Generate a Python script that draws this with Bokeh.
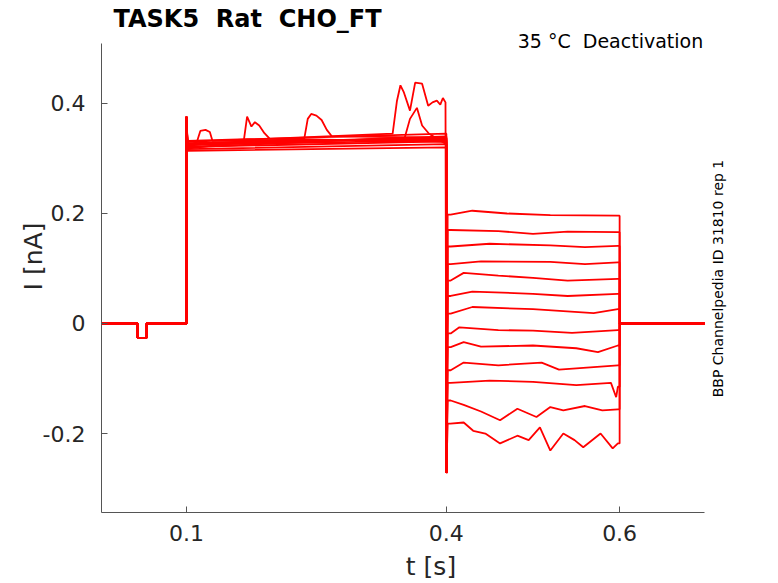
import math
from bokeh.plotting import figure
from bokeh.models import FixedTicker, Label, Range1d
from bokeh.embed import file_html
from bokeh.resources import INLINE

# ---------------- data ----------------
# protocol time points [s]
T_START = 0.002
T_DIP_ON = 0.0435
T_DIP_OFF = 0.054
T_STEP1 = 0.1
T_STEP2 = 0.4
T_STEP3 = 0.6
T_END = 0.698

DIP_LEVEL = -0.026        # small pre-pulse dip [nA]
ON_SPIKE = 0.376          # transient at the 0.1 s step [nA]
OFF_SPIKE = -0.272        # transient at the 0.4 s step [nA]

# 0.1-0.4 s plateau level at start and end of each sweep [nA]
HOLD_START = [0.322, 0.318, 0.326, 0.330, 0.320, 0.328, 0.314, 0.324, 0.332, 0.321, 0.327, 0.317, 0.325]
HOLD_END   = [0.334, 0.330, 0.338, 0.342, 0.326, 0.336, 0.320, 0.340, 0.345, 0.331, 0.337, 0.326, 0.333]

# local excursions during the 0.1-0.4 s plateau (t, I)
HOLD_BUMPS = {
    0: [(0.112, 0.330), (0.116, 0.350), (0.122, 0.352), (0.127, 0.348), (0.130, 0.332)],
    1: [(0.166, 0.330), (0.170, 0.376), (0.175, 0.358), (0.179, 0.366), (0.184, 0.360),
        (0.190, 0.346), (0.196, 0.336)],
    2: [(0.236, 0.336), (0.240, 0.372), (0.244, 0.381), (0.250, 0.378), (0.256, 0.370),
        (0.262, 0.352), (0.268, 0.340)],
    3: [(0.338, 0.345), (0.343, 0.405), (0.347, 0.433), (0.351, 0.420), (0.358, 0.387),
        (0.364, 0.438), (0.372, 0.436), (0.379, 0.396), (0.384, 0.402), (0.389, 0.405),
        (0.393, 0.398), (0.396, 0.410), (0.399, 0.402)],
    4: [(0.352, 0.338), (0.358, 0.372), (0.366, 0.392), (0.372, 0.360), (0.380, 0.345)],
}

# 0.4-0.6 s test-pulse traces of the 13 sweeps (t, I) [s, nA]
TEST_TRACES = [
    [(0.405, 0.198), (0.430, 0.205), (0.470, 0.200), (0.520, 0.197), (0.598, 0.196)],
    [(0.405, 0.170), (0.460, 0.168), (0.500, 0.163), (0.540, 0.167), (0.598, 0.166)],
    [(0.405, 0.140), (0.450, 0.145), (0.520, 0.142), (0.560, 0.139), (0.598, 0.141)],
    [(0.405, 0.108), (0.440, 0.113), (0.520, 0.112), (0.560, 0.108), (0.598, 0.111)],
    [(0.405, 0.078), (0.420, 0.092), (0.460, 0.087), (0.500, 0.083), (0.540, 0.078), (0.598, 0.081)],
    [(0.405, 0.050), (0.430, 0.058), (0.500, 0.054), (0.540, 0.050), (0.598, 0.054)],
    [(0.405, 0.018), (0.430, 0.030), (0.500, 0.026), (0.570, 0.019), (0.598, 0.026)],
    [(0.405, -0.018), (0.415, -0.007), (0.460, -0.012), (0.500, -0.013), (0.545, -0.017), (0.598, -0.012)],
    [(0.405, -0.043), (0.420, -0.034), (0.440, -0.042), (0.500, -0.040), (0.550, -0.045),
     (0.575, -0.052), (0.598, -0.040)],
    [(0.405, -0.085), (0.420, -0.071), (0.460, -0.076), (0.510, -0.071), (0.530, -0.084), (0.598, -0.076)],
    [(0.405, -0.108), (0.450, -0.104), (0.500, -0.106), (0.550, -0.112), (0.590, -0.108),
     (0.596, -0.134), (0.598, -0.115)],
    [(0.405, -0.140), (0.420, -0.148), (0.440, -0.160), (0.462, -0.176), (0.482, -0.155),
     (0.504, -0.170), (0.520, -0.152), (0.535, -0.158), (0.560, -0.150), (0.580, -0.158),
     (0.598, -0.156)],
    [(0.4046, -0.182), (0.420, -0.180), (0.431, -0.195), (0.445, -0.200), (0.462, -0.218),
     (0.482, -0.204), (0.495, -0.212), (0.508, -0.189), (0.520, -0.231), (0.535, -0.200),
     (0.548, -0.212), (0.558, -0.225), (0.578, -0.200), (0.592, -0.227), (0.598, -0.218)],
]

Y_TICKS = [-0.2, 0.0, 0.2, 0.4]
Y_TICK_LABELS = ["-0.2", "0", "0.2", "0.4"]
X_TICKS = [0.1, 0.4, 0.6]
X_TICK_LABELS = ["0.1", "0.4", "0.6"]

# axis extents (data units) and the axis-line bounds
X_AXIS_MIN, X_AXIS_MAX = 0.00193, 0.698
Y_AXIS_MIN, Y_AXIS_MAX = -0.3436, 0.509

TITLE = "TASK5\u00a0\u00a0Rat\u00a0\u00a0CHO_FT"
SUBTITLE = "35 \u00b0C\u00a0\u00a0Deactivation"
SIDE_TEXT = "BBP Channelpedia ID 31810 rep 1"
X_LABEL = "t [s]"
Y_LABEL = "I [nA]"


def build_sweep(k):
    xs = [T_START, T_DIP_ON, T_DIP_ON, T_DIP_OFF, T_DIP_OFF, T_STEP1, T_STEP1]
    ys = [0.0, 0.0, DIP_LEVEL, DIP_LEVEL, 0.0, 0.0, ON_SPIKE]
    xs.append(T_STEP1 + 0.0012)
    ys.append(HOLD_START[k])
    for (t, v) in HOLD_BUMPS.get(k, []):
        xs.append(t)
        ys.append(v)
    if k != 3:
        xs.append(T_STEP2)
        ys.append(HOLD_END[k])
    xs.append(T_STEP2)
    ys.append(OFF_SPIKE)
    first_level = TEST_TRACES[k][0][1]
    xs.append(T_STEP2 + 0.0015)
    ys.append(first_level)
    for (t, v) in TEST_TRACES[k]:
        xs.append(t)
        ys.append(v)
    xs += [T_STEP3, T_STEP3, T_END]
    ys += [TEST_TRACES[k][-1][1], 0.0, 0.0]
    return xs, ys


# frame spans the whole canvas above/right so texts can sit inside it;
# axis lines are limited with 'bounds'
PX_PER_T = 866.7
PX_PER_I = 550.0
x_right = X_AXIS_MAX + (760 - 704) / PX_PER_T
y_top = Y_AXIS_MAX + 43 / PX_PER_I

p = figure(width=778, height=583, output_backend="svg", toolbar_location=None,
           x_range=Range1d(X_AXIS_MIN, x_right), y_range=Range1d(Y_AXIS_MIN, y_top),
           min_border_left=101, min_border_right=18, min_border_top=0, min_border_bottom=71)
p.title.visible = False

for k in range(len(TEST_TRACES)):
    xs, ys = build_sweep(k)
    p.line(xs, ys, line_color="#ff0000", line_width=1.8)

p.add_layout(Label(x=X_AXIS_MIN + (113 - 101) / PX_PER_T, y=Y_AXIS_MAX + (43 - 18) / PX_PER_I,
                   text=TITLE, text_align="left", text_baseline="middle",
                   text_font="DejaVu Sans", text_font_size="24px", text_font_style="bold",
                   text_color="#000000"))
p.add_layout(Label(x=X_AXIS_MAX - 0.0015, y=Y_AXIS_MAX + (43 - 40) / PX_PER_I,
                   text=SUBTITLE, text_align="right", text_baseline="middle",
                   text_font="DejaVu Sans", text_font_size="19px", text_color="#000000"))
p.add_layout(Label(x=X_AXIS_MAX + (717 - 704) / PX_PER_T, y=(323 - 278) / PX_PER_I,
                   text=SIDE_TEXT, angle=math.pi / 2, text_align="center", text_baseline="middle",
                   text_font="DejaVu Sans", text_font_size="14px", text_color="#000000"))

p.grid.visible = False
p.outline_line_color = None
p.background_fill_color = "white"
p.border_fill_color = "white"

for ax in (p.xaxis[0], p.yaxis[0]):
    ax.axis_line_color = "#555555"
    ax.major_tick_line_color = "#555555"
    ax.major_tick_in = 6
    ax.major_tick_out = 0
    ax.minor_tick_line_color = None
    ax.major_label_text_font = "DejaVu Sans"
    ax.major_label_text_font_size = "22px"
    ax.major_label_text_color = "#262626"
    ax.axis_label_text_font = "DejaVu Sans"
    ax.axis_label_text_font_size = "25px"
    ax.axis_label_text_font_style = "normal"
    ax.axis_label_text_color = "#262626"

p.xaxis.bounds = (X_AXIS_MIN, X_AXIS_MAX)
p.yaxis.bounds = (Y_AXIS_MIN, Y_AXIS_MAX)
p.xaxis.ticker = FixedTicker(ticks=X_TICKS)
p.xaxis.major_label_overrides = {t: s for t, s in zip(X_TICKS, X_TICK_LABELS)}
p.yaxis.ticker = FixedTicker(ticks=Y_TICKS)
p.yaxis.major_label_overrides = {t: s for t, s in zip(Y_TICKS, Y_TICK_LABELS)}
p.xaxis.axis_label = X_LABEL
p.yaxis.axis_label = Y_LABEL
p.xaxis.major_label_standoff = 12
p.yaxis.major_label_standoff = 16
p.xaxis.axis_label_standoff = 8
p.yaxis.axis_label_standoff = -8

open("out.html", "w").write(file_html(p, INLINE))
